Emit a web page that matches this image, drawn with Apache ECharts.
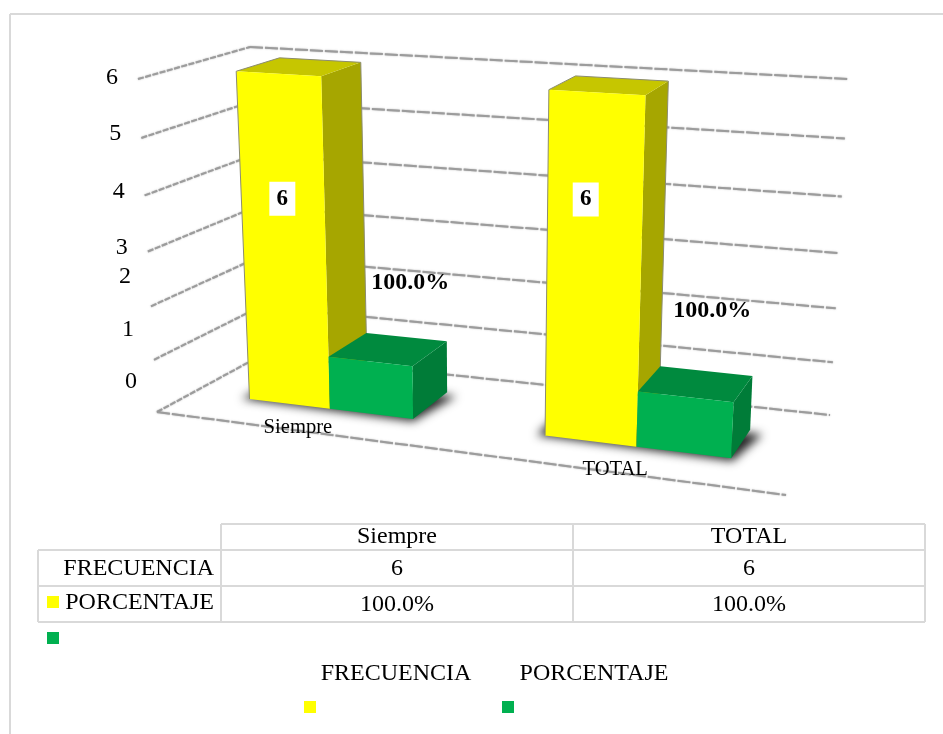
<!DOCTYPE html>
<html><head><meta charset="utf-8">
<style>html,body{margin:0;padding:0;background:#fff}#c{width:943px;height:734px}</style>
<script src="https://cdn.jsdelivr.net/npm/echarts@6/dist/echarts.min.js"></script>
</head><body><div id="c"></div>
<script>
// ---- data ----
const categories = ['Siempre', 'TOTAL'];
const frecuencia = [6, 6];
const porcentaje = [1, 1];
const porcentajeLabels = ['100.0%', '100.0%'];
const yTicks = [0, 1, 2, 3, 4, 5, 6];
const seriesNames = ['FRECUENCIA', 'PORCENTAJE'];

// ---- look ----
const W = 943, H = 734;
const FONT = '"Liberation Serif","Times New Roman",serif';
const GRID = '#9c9c9c', TABLE = '#d9d9d9';
const COL = {
  y: {front: '#ffff00', top: '#c6c600', side: '#a6a600'},
  g: {front: '#00b050', top: '#008a3e', side: '#007c38'}
};
// corners of the projected chart box: [floor/ceiling][front/back][left/right]
const BOX = {
  floor: {fl: [157, 412], fr: [786, 495], bl: [262, 355], br: [830, 415]},
  ceil:  {fl: [138, 79],  fr: [805, 120], bl: [250, 47],  br: [848, 79]}
};
const BAR_FRONT = 0.35, BAR_BAND = 0.576;
const barBack = cat => (cat === 0 ? 0.76 : 0.72);
const lerp = (a, b, t) => [a[0] + (b[0] - a[0]) * t, a[1] + (b[1] - a[1]) * t];
const persp = (x, k) => k * x / (1 - (1 - k) * x);
// u,v in 0..1 (from the axes), w depth 0..1
function project(u, v, w) {
  const g = persp(u, 0.88), h = persp(v, 0.93);
  const quad = c => lerp(lerp(c.fl, c.fr, g), lerp(c.bl, c.br, g), w);
  return lerp(quad(BOX.floor), quad(BOX.ceil), h);
}
// axis → normalised
const uOf = (api, cat) => 0.5 + (api.coord([cat, 0])[0] / W - 0.5) * 1.012;
const vOf = (api, val) => 1 - api.coord([0, val])[1] / H;

function barShapes(api, cat, val, slot, c) {
  const uc = uOf(api, cat), band = api.size([1, 0])[0] / W * BAR_BAND;
  const u0 = uc + (slot - 1) * band / 2, u1 = u0 + band / 2;
  const v = vOf(api, val), B = barBack(cat);
  const a = project;
  const poly = (pts, fill) => ({type: 'polygon', shape: {points: pts}, style: {fill}});
  const edge = (p, q) => ({type: 'line', shape: {x1: p[0], y1: p[1], x2: q[0], y2: q[1]}, style: {stroke: '#8c8c70', lineWidth: 1}});
  const children = [
    poly([a(u1, 0, BAR_FRONT), a(u1, 0, B), a(u1, v, B), a(u1, v, BAR_FRONT)], c.side),
    poly([a(u0, v, BAR_FRONT), a(u1, v, BAR_FRONT), a(u1, v, B), a(u0, v, B)], c.top),
    poly([a(u0, 0, BAR_FRONT), a(u1, 0, BAR_FRONT), a(u1, v, BAR_FRONT), a(u0, v, BAR_FRONT)], c.front)
  ];
  if (slot === 0) {
    children.push(edge(a(u0, 0, BAR_FRONT), a(u0, v, BAR_FRONT)));
    children.push(edge(a(u1, 0.15, B), a(u1, v, B)));
    children.push(edge(a(u0, v, BAR_FRONT), a(u0, v, B)));
    children.push(edge(a(u0, v, B), a(u1, v, B)));
  }
  return children;
}

const renderWalls = (params, api) => {
  const t = api.value(0), v = vOf(api, t);
  const seg = (p, q, dash) => ({type: 'line', shape: {x1: p[0], y1: p[1], x2: q[0], y2: q[1]},
    style: {stroke: GRID, lineWidth: 2, lineDash: dash, fill: null, shadowBlur: 1.5, shadowColor: 'rgba(120,120,120,0.7)'}});
  return {type: 'group', children: [
    seg(project(0, v, 0), project(0, v, 1), [6, 1.5]),
    seg(project(0, v, 1), project(1, v, 1), [13, 2])
  ]};
};
const renderFloorFront = () => {
  const p = project(0, 0, 0), q = project(1, 0, 0);
  return {type: 'line', shape: {x1: p[0], y1: p[1], x2: q[0], y2: q[1]},
    style: {stroke: GRID, lineWidth: 2, lineDash: [13, 2], shadowBlur: 1.5, shadowColor: 'rgba(120,120,120,0.7)'}};
};
// soft floor shadow: the polygon itself sits off-canvas, only its blur lands on the floor
const SHADOW_SHIFT = 3000;
const renderShadow = (params, api) => {
  const cat = api.value(0);
  const uc = uOf(api, cat), band = api.size([1, 0])[0] / W * BAR_BAND;
  const u0 = uc - band / 2, u1 = uc + band / 2, B = barBack(cat);
  const pts = [project(u0 - 0.012, 0, BAR_FRONT - 0.01), project(u1 + 0.004, 0, BAR_FRONT - 0.03),
               project(u1 + 0.022, 0, B - 0.04), project(u0 - 0.012, 0, B - 0.04)]
    .map(p => [p[0] - SHADOW_SHIFT, p[1]]);
  return {type: 'polygon', shape: {points: pts},
    style: {fill: '#000', shadowBlur: 10, shadowColor: 'rgba(0,0,0,0.85)', shadowOffsetX: SHADOW_SHIFT}};
};
const makeBar = (slot, c) => (params, api) => ({type: 'group',
  children: barShapes(api, api.value(0), api.value(1), slot, c)});

// category names under the floor
const renderCatLabel = (params, api) => {
  const p = project(uOf(api, api.value(0)), 0, 0);
  return {type: 'text', x: p[0], y: p[1] - 3,
    style: {text: categories[api.value(0)], font: '20.6px ' + FONT, fill: '#000', align: 'center', verticalAlign: 'middle'}};
};
// value-axis tick labels beside the left wall (2, 1 and 0 sit higher, as in the original)
const TICK_NUDGE = [-30, -30, -30, -4, -4, -4, -1];
const renderTickLabel = (params, api) => {
  const t = api.value(0), p = project(0, vOf(api, t), 0);
  return {type: 'text', x: p[0] - 26, y: p[1] + TICK_NUDGE[t],
    style: {text: String(t), font: '24px ' + FONT, fill: '#000', align: 'center', verticalAlign: 'middle'}};
};
// data labels, nudged off the bars as in the original
const NUDGE_F = [[4, 125], [-11, 107]];
const NUDGE_P = [[40, -79], [27, -86]];
const renderFreqLabel = (params, api) => {
  const cat = api.value(0), band = api.size([1, 0])[0] / W * BAR_BAND;
  const p = project(uOf(api, cat) - band / 4, vOf(api, api.value(1)), BAR_FRONT);
  const x = p[0] + NUDGE_F[cat][0], y = p[1] + NUDGE_F[cat][1];
  return {type: 'group', children: [
    {type: 'rect', shape: {x: x - 13, y: y - 17, width: 26, height: 34}, style: {fill: '#fff'}},
    {type: 'text', x, y, style: {text: String(api.value(1)), font: 'bold 23px ' + FONT, fill: '#000', align: 'center', verticalAlign: 'middle'}}
  ]};
};
const renderPctLabel = (params, api) => {
  const cat = api.value(0), band = api.size([1, 0])[0] / W * BAR_BAND;
  const p = project(uOf(api, cat) + band / 4, vOf(api, api.value(1)), BAR_FRONT);
  return {type: 'text', x: p[0] + NUDGE_P[cat][0], y: p[1] + NUDGE_P[cat][1],
    style: {text: porcentajeLabels[cat], font: 'bold 24px ' + FONT, fill: '#000', align: 'center', verticalAlign: 'middle'}};
};

// ---- table, frame and legend ----
const T = {xs: [38, 221, 573, 925], ys: [524, 550, 586, 622]};
const line = (x1, y1, x2, y2, c) => ({type: 'line', shape: {x1, y1, x2, y2}, style: {stroke: c || TABLE, lineWidth: 2}, silent: true});
const txt = (text, x, y, align) => ({type: 'text', x, y, style: {text, font: '24px ' + FONT, fill: '#000', align: align || 'center', verticalAlign: 'middle'}, silent: true});
const sq = (x, y, fill) => ({type: 'rect', shape: {x, y, width: 12, height: 12}, style: {fill}, silent: true});
const cx = [(T.xs[1] + T.xs[2]) / 2, (T.xs[2] + T.xs[3]) / 2];
const graphics = [
  line(10, 14, 943, 14), line(10, 14, 10, 734),
  line(T.xs[1], T.ys[0], T.xs[3], T.ys[0]),
  line(T.xs[0], T.ys[1], T.xs[3], T.ys[1]),
  line(T.xs[0], T.ys[2], T.xs[3], T.ys[2]),
  line(T.xs[0], T.ys[3], T.xs[3], T.ys[3]),
  line(T.xs[0], T.ys[1], T.xs[0], T.ys[3]),
  line(T.xs[1], T.ys[0], T.xs[1], T.ys[3]),
  line(T.xs[2], T.ys[0], T.xs[2], T.ys[3]),
  line(T.xs[3], T.ys[0], T.xs[3], T.ys[3]),
  txt(seriesNames[0], 214, 569, 'right'),
  txt(seriesNames[1], 214, 603, 'right'),
  sq(47, 596, COL.y.front), sq(47, 632, COL.g.front),
  txt(seriesNames[0], 396, 674), txt(seriesNames[1], 594, 674),
  sq(304, 701, COL.y.front), sq(502, 701, COL.g.front)
];
categories.forEach((c, i) => {
  graphics.push(txt(c, cx[i], 537), txt(String(frecuencia[i]), cx[i], 569), txt(porcentajeLabels[i], cx[i], 605));
});

const freqData = categories.map((c, i) => [i, frecuencia[i]]);
const pctData = categories.map((c, i) => [i, porcentaje[i]]);
const catData = categories.map((c, i) => [i]);
const tickData = yTicks.map(t => [t]);
const custom = (name, renderItem, data, z) => ({type: 'custom', name, renderItem, data, z, silent: true, clip: false,
  animation: false, coordinateSystem: 'cartesian2d', encode: {x: 0, y: 1}});
const tickSeries = (name, renderItem, z) => ({type: 'custom', name, renderItem, data: tickData, z, silent: true, clip: false,
  animation: false, coordinateSystem: 'cartesian2d', encode: {y: 0}});

const chart = echarts.init(document.getElementById('c'), null, {renderer: 'canvas', width: W, height: H});
chart.setOption({
  animation: false,
  backgroundColor: '#fff',
  grid: {left: 0, right: 0, top: 0, bottom: 0},
  xAxis: {type: 'category', data: categories, show: false},
  yAxis: {type: 'value', min: 0, max: 6, interval: 1, show: false},
  graphic: graphics,
  series: [
    tickSeries('walls', renderWalls, 1),
    custom('floor', renderFloorFront, catData.slice(0, 1), 1),
    custom('shadow', renderShadow, catData, 2),
    custom(seriesNames[0], makeBar(0, COL.y), freqData, 3),
    custom(seriesNames[1], makeBar(1, COL.g), pctData, 4),
    custom('freqLabels', renderFreqLabel, freqData, 6),
    custom('pctLabels', renderPctLabel, pctData, 6),
    custom('catLabels', renderCatLabel, catData, 6),
    tickSeries('tickLabels', renderTickLabel, 6)
  ]
});
</script></body></html>
